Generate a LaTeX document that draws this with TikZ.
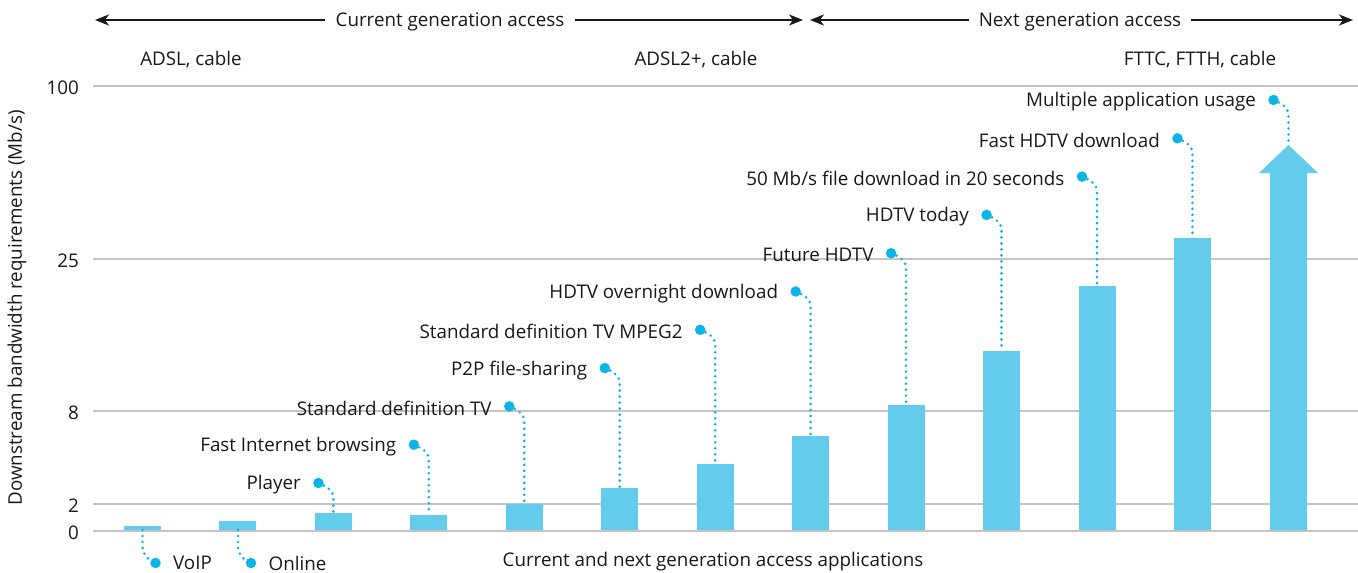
\documentclass[tikz,border=0pt]{standalone}
\usepackage{fontspec}
\setmainfont{Open Sans}
\usetikzlibrary{arrows.meta}
\definecolor{barblue}{HTML}{63CBEB}
\definecolor{dotblue}{HTML}{0AB4E6}
\definecolor{gridgray}{HTML}{C4C4C4}
\definecolor{ink}{HTML}{1A1718}
\tikzset{
  txt/.style={inner sep=0pt, text=ink, font=\fontsize{18.8}{22}\selectfont},
  lbl/.style={txt, yshift=-2pt},
  bar/.style={fill=barblue, draw=none, inner sep=0pt, outer sep=0pt, minimum width=37pt, anchor=south},
  grid line/.style={draw=gridgray, line width=1.1pt},
  leader/.style={draw=dotblue, line width=2.9pt, line cap=round, dash pattern=on 0pt off 6pt},
  bullet/.style={circle, fill=dotblue, inner sep=0pt, minimum size=10.5pt},
  span arrow/.style={draw=ink, line width=2pt, -{Stealth[length=14pt,width=11pt,inset=4pt]}}
}
\begin{document}
\begin{tikzpicture}[x=1pt, y=-1pt]
\useasboundingbox (0,0) rectangle (1358,573);

% horizontal grid lines and their values
\foreach \gy/\val in {86/100, 259/25, 411/8, 504/2, 531/0}{
  \draw[grid line] (93,\gy) -- (1358,\gy);
  \node[lbl, anchor=east] (tick\val) at (79,\gy) {\val};
}
\node[txt, rotate=90] (ylabel) at (17,308) {Downstream bandwidth requirements (Mb/s)};

% access generation spans
\node[lbl] (cur) at (450,20) {Current generation access};
\node[lbl] (nxt) at (1080,20) {Next generation access};
\coordinate (curL) at (95,20);
\coordinate (curR) at (803,20);
\coordinate (nxtL) at (810,20);
\coordinate (nxtR) at (1353,20);
\draw[span arrow] ([xshift=-10pt,yshift=2pt]cur.west) -- (curL);
\draw[span arrow] ([xshift=10pt,yshift=2pt]cur.east) -- (curR);
\draw[span arrow] ([xshift=-10pt,yshift=2pt]nxt.west) -- (nxtL);
\draw[span arrow] ([xshift=10pt,yshift=2pt]nxt.east) -- (nxtR);

\node[lbl] (tech1) at (191,58) {ADSL, cable};
\node[lbl] (tech2) at (696,58) {ADSL2+, cable};
\node[lbl] (tech3) at (1200,58) {FTTC, FTTH, cable};

% bars
\foreach \i/\top in {1/526, 2/521, 3/513, 4/515, 5/504, 6/488, 7/464, 8/436, 9/405, 10/351, 11/286, 12/238}{
  \pgfmathsetmacro\cx{142.5+95.45*(\i-1)}
  \node[bar, minimum height={(530-\top)*1pt}] (b\i) at (\cx,530) {};
}

% growth arrow
\coordinate (tip) at (1288.5,145);
\fill[barblue] (1270,530) -- (1270,173) -- (1259,173) -- (tip) -- (1318,173) -- (1307,173) -- (1307,530) -- cycle;

% application labels with leaders
\foreach \i/\lab in {3/{Player}, 4/{Fast Internet browsing}, 5/{Standard definition TV}, 6/{P2P file-sharing},
  7/{Standard definition TV MPEG2}, 8/{HDTV overnight download}, 9/{Future HDTV}, 10/{HDTV today},
  11/{50 Mb/s file download in 20 seconds}, 12/{Fast HDTV download}}{
  \pgfmathsetmacro\cx{142.5+95.45*(\i-1)}
  \pgfmathsetmacro\dy{483-38.3*(\i-3)}
  \pgfmathsetmacro\dx{\cx-15}
  \draw[leader] (\dx,\dy) .. controls (\cx-5,\dy+4) and (\cx,\dy+8) .. (\cx,\dy+16) -- (b\i.north);
  \node[bullet] (d\i) at (\dx,\dy) {};
  \node[lbl, anchor=east] (l\i) at ([xshift=-12pt]d\i.west) {\lab};
}
\pgfmathsetmacro\dy{483-38.3*10}
\draw[leader] (1273.5,\dy) .. controls (1283.5,\dy+4) and (1288.5,\dy+8) .. (1288.5,\dy+16) -- (tip);
\node[bullet] (d13) at (1273.5,\dy) {};
\node[lbl, anchor=east] (l13) at ([xshift=-12pt]d13.west) {Multiple application usage};

% low-rate applications below the axis
\draw[leader] (b1.south) -- (142.5,547) .. controls (142.5,554) and (147,559) .. (155.5,563);
\node[bullet] (d1) at (155.5,563) {};
\node[txt, anchor=west] (l1) at ([xshift=12pt]d1.east) {VoIP};
\draw[leader] (b2.south) -- (238,547) .. controls (238,554) and (242.5,559) .. (251,563);
\node[bullet] (d2) at (251,563) {};
\node[txt, anchor=west] (l2) at ([xshift=12pt]d2.east) {Online};

\node[txt] (xlabel) at (713,562) {Current and next generation access applications};
\end{tikzpicture}
\end{document}
